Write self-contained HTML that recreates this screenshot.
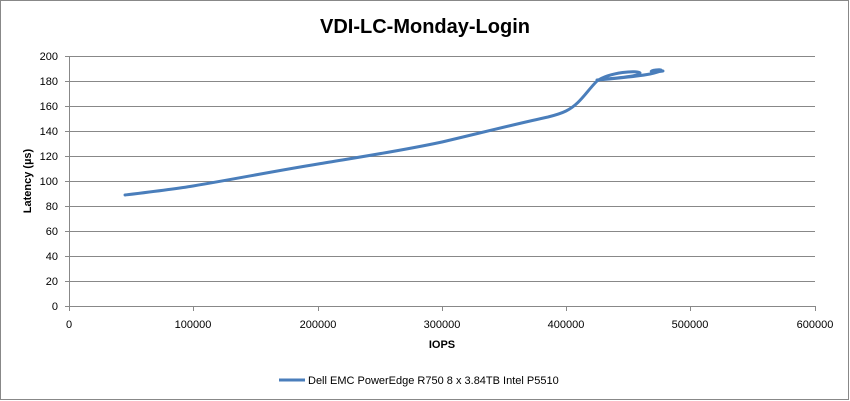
<!DOCTYPE html>
<html><head><meta charset="utf-8"><style>
html,body{margin:0;padding:0;background:#fff}
svg{display:block}
text{font-family:"Liberation Sans",sans-serif}
</style></head><body>
<svg width="850" height="401" viewBox="0 0 850 401" xmlns="http://www.w3.org/2000/svg">
<rect x="0.5" y="0.5" width="848" height="399" fill="#fff" stroke="#888"/>
<text x="425" y="33" text-anchor="middle" font-size="20" font-weight="bold" fill="#000">VDI-LC-Monday-Login</text>
<g stroke="#888" stroke-width="1">
<line x1="69" y1="56.5" x2="815" y2="56.5"/>
<line x1="69" y1="81.5" x2="815" y2="81.5"/>
<line x1="69" y1="106.5" x2="815" y2="106.5"/>
<line x1="69" y1="131.5" x2="815" y2="131.5"/>
<line x1="69" y1="156.5" x2="815" y2="156.5"/>
<line x1="69" y1="181.5" x2="815" y2="181.5"/>
<line x1="69" y1="206.5" x2="815" y2="206.5"/>
<line x1="69" y1="231.5" x2="815" y2="231.5"/>
<line x1="69" y1="256.5" x2="815" y2="256.5"/>
<line x1="69" y1="281.5" x2="815" y2="281.5"/>
<line x1="69" y1="306.5" x2="815" y2="306.5"/>
<line x1="69.5" y1="56" x2="69.5" y2="306"/>
<g>
<line x1="65" y1="56.5" x2="69" y2="56.5"/><line x1="65" y1="81.5" x2="69" y2="81.5"/><line x1="65" y1="106.5" x2="69" y2="106.5"/><line x1="65" y1="131.5" x2="69" y2="131.5"/><line x1="65" y1="156.5" x2="69" y2="156.5"/><line x1="65" y1="181.5" x2="69" y2="181.5"/><line x1="65" y1="206.5" x2="69" y2="206.5"/><line x1="65" y1="231.5" x2="69" y2="231.5"/><line x1="65" y1="256.5" x2="69" y2="256.5"/><line x1="65" y1="281.5" x2="69" y2="281.5"/><line x1="65" y1="306.5" x2="69" y2="306.5"/>
</g>
<line x1="69.5" y1="306" x2="69.5" y2="311"/><line x1="193.5" y1="306" x2="193.5" y2="311"/><line x1="318.5" y1="306" x2="318.5" y2="311"/><line x1="442.5" y1="306" x2="442.5" y2="311"/><line x1="566.5" y1="306" x2="566.5" y2="311"/><line x1="690.5" y1="306" x2="690.5" y2="311"/><line x1="815.5" y1="306" x2="815.5" y2="311"/>
</g>
<g font-size="11" fill="#000" text-anchor="end">
<text x="58" y="60">200</text><text x="58" y="85">180</text><text x="58" y="110">160</text><text x="58" y="135">140</text><text x="58" y="160">120</text><text x="58" y="185">100</text><text x="58" y="210">80</text><text x="58" y="235">60</text><text x="58" y="260">40</text><text x="58" y="285">20</text><text x="58" y="310">0</text>
</g>
<g font-size="11" fill="#000" text-anchor="middle">
<text x="69" y="328">0</text><text x="193" y="328">100000</text><text x="318" y="328">200000</text><text x="442" y="328">300000</text><text x="566" y="328">400000</text><text x="690" y="328">500000</text><text x="815" y="328">600000</text>
</g>
<text x="442" y="348" text-anchor="middle" font-size="11" font-weight="bold">IOPS</text>
<text transform="translate(31,181) rotate(-90)" text-anchor="middle" font-size="11" font-weight="bold">Latency (µs)</text>
<path d="M125,195 C150,192 175,189 193,186 C235,179 275,171 318,164 C360,157 400,151 442,142 C480,133 520,123 548,117 C556,115 562,113 566,111 C580,104 586,92 597,81 C610,72 638,70 640,73 C638,77 612,78 597,80 C620,78 640,76 650,74 C660,72 666,69 656,70 C648,71 650,73 663,71" fill="none" stroke="#4a7ebb" stroke-width="3" stroke-linecap="round" stroke-linejoin="round"/>
<line x1="279" y1="380" x2="305" y2="380" stroke="#4a7ebb" stroke-width="3"/>
<text x="308" y="384" font-size="11" fill="#000">Dell EMC PowerEdge R750 8 x 3.84TB  Intel P5510</text>
</svg>
</body></html>
